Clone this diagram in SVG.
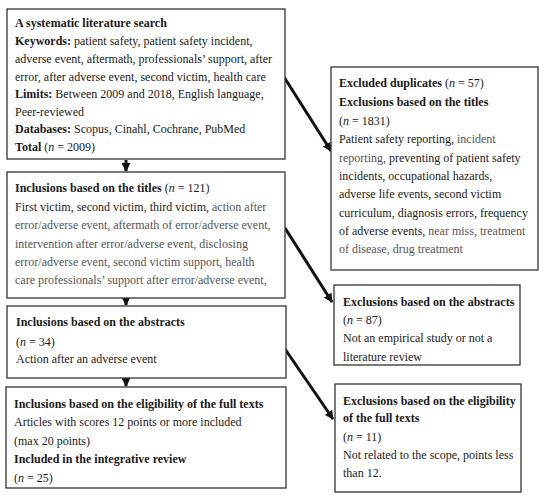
<svg xmlns="http://www.w3.org/2000/svg" width="550" height="500" viewBox="0 0 550 500">
<style>
.box{fill:#fff;stroke:#333;stroke-width:1.3}
text{font-family:"Liberation Serif","DejaVu Serif",serif;font-size:12px;fill:#1a1a1a}
.b{font-weight:bold}
.i{font-style:italic}
.g{fill:#555}
.conn{stroke:#111;stroke-width:3;fill:none}
</style>
<defs>
<marker id="ah" viewBox="0 0 10 10" refX="9" refY="5" markerWidth="3" markerHeight="3" orient="auto" markerUnits="strokeWidth">
<path d="M0,0 L10,5 L0,10 z" fill="#111"/>
</marker>
</defs>
<rect width="550" height="500" fill="#fff"/>
<g id="connectors">
<line class="conn" x1="126" y1="160" x2="126" y2="171" marker-end="url(#ah)"/>
<line class="conn" x1="126" y1="298" x2="126" y2="305" marker-end="url(#ah)"/>
<line class="conn" x1="126" y1="378" x2="126" y2="386" marker-end="url(#ah)"/>
<line class="conn" x1="284" y1="77" x2="331" y2="151" marker-end="url(#ah)"/>
<line class="conn" x1="285" y1="228" x2="332" y2="302" marker-end="url(#ah)"/>
<line class="conn" x1="285" y1="349" x2="333" y2="419" marker-end="url(#ah)"/>
</g>
<g id="search">
<rect class="box" x="7" y="9" width="278" height="150"/>
<text x="15" y="27" class="b">A systematic literature search</text>
<text x="15" y="45"><tspan class="b">Keywords:</tspan> patient safety, patient safety incident,</text>
<text x="15" y="63">adverse event, aftermath, professionals’ support, after</text>
<text x="15" y="81">error, after adverse event, second victim, health care</text>
<text x="15" y="98"><tspan class="b">Limits:</tspan> Between 2009 and 2018, English language,</text>
<text x="15" y="116">Peer-reviewed</text>
<text x="15" y="133"><tspan class="b">Databases:</tspan> Scopus, Cinahl, Cochrane, PubMed</text>
<text x="15" y="151"><tspan class="b">Total</tspan> (<tspan class="i">n</tspan> = 2009)</text>
</g>
<g id="titles">
<rect class="box" x="7" y="172" width="278" height="126"/>
<text x="15" y="192"><tspan class="b">Inclusions based on the titles</tspan> (<tspan class="i">n</tspan> = 121)</text>
<text x="15" y="211">First victim, second victim, third victim, <tspan class="g">action after</tspan></text>
<text x="15" y="229" class="g">error/adverse event, aftermath of error/adverse event,</text>
<text x="15" y="248" class="g">intervention after error/adverse event, disclosing</text>
<text x="15" y="266" class="g">error/adverse event, second victim support, health</text>
<text x="15" y="284" class="g">care professionals’ support after error/adverse event,</text>
</g>
<g id="abstracts">
<rect class="box" x="7" y="306" width="279" height="72"/>
<text x="16" y="326" class="b">Inclusions based on the abstracts</text>
<text x="16" y="346">(<tspan class="i">n</tspan> = 34)</text>
<text x="16" y="363">Action after an adverse event</text>
</g>
<g id="fulltexts">
<rect class="box" x="6" y="387" width="280" height="101"/>
<text x="14" y="408" class="b">Inclusions based on the eligibility of the full texts</text>
<text x="14" y="426">Articles with scores 12 points or more included</text>
<text x="14" y="445">(max 20 points)</text>
<text x="14" y="463" class="b">Included in the integrative review</text>
<text x="14" y="482">(<tspan class="i">n</tspan> = 25)</text>
</g>
<g id="excl-titles">
<rect class="box" x="331" y="67" width="207" height="203"/>
<text x="339" y="87"><tspan class="b">Excluded duplicates</tspan> (<tspan class="i">n</tspan> = 57)</text>
<text x="339" y="106" class="b">Exclusions based on the titles</text>
<text x="339" y="125">(<tspan class="i">n</tspan> = 1831)</text>
<text x="339" y="143">Patient safety reporting, <tspan class="g">incident</tspan></text>
<text x="339" y="162"><tspan class="g">reporting,</tspan> preventing of patient safety</text>
<text x="339" y="180">incidents, occupational hazards,</text>
<text x="339" y="198">adverse life events, second victim</text>
<text x="339" y="217">curriculum, diagnosis errors, frequency</text>
<text x="339" y="235">of adverse events, <tspan class="g">near miss, treatment</tspan></text>
<text x="339" y="253" class="g">of disease, drug treatment</text>
</g>
<g id="excl-abstracts">
<rect class="box" x="334" y="285" width="186" height="80"/>
<text x="343" y="306" class="b">Exclusions based on the abstracts</text>
<text x="343" y="324">(<tspan class="i">n</tspan> = 87)</text>
<text x="343" y="342">Not an empirical study or not a</text>
<text x="343" y="361">literature review</text>
</g>
<g id="excl-fulltexts">
<rect class="box" x="335" y="384" width="186" height="108"/>
<text x="343" y="405" class="b">Exclusions based on the eligibility</text>
<text x="343" y="422" class="b">of the full texts</text>
<text x="343" y="441">(<tspan class="i">n</tspan> = 11)</text>
<text x="343" y="459">Not related to the scope, points less</text>
<text x="343" y="477">than 12.</text>
</g>
</svg>
